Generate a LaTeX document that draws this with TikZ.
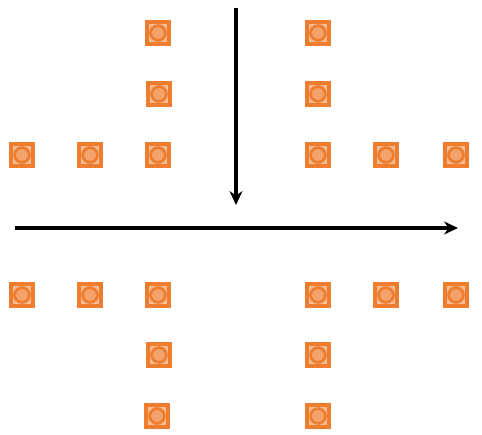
\documentclass[tikz,border=0pt]{standalone}
\usetikzlibrary{arrows.meta}
\definecolor{iconedge}{HTML}{EF7D2E}
\definecolor{iconfill}{HTML}{F7BC94}
\definecolor{iconcore}{HTML}{F3A26C}
\tikzset{
  icon/.style={draw=iconedge, line width=3.4pt, fill=iconfill,
    minimum size=22pt, inner sep=0pt,
    path picture={\draw[iconedge, line width=2.8pt, fill=iconcore]
      (path picture bounding box.center) circle[radius=7.4pt];}},
  axis/.style={line width=3.4pt, -{Stealth[length=14pt,width=13pt]}}
}
\begin{document}
\begin{tikzpicture}[x=1pt,y=-1pt]
\useasboundingbox (0,0) rectangle (482,435);
% upper left block
\node[icon] (ul1) at (158,33) {};
\node[icon] (ul2) at (159,94) {};
\node[icon] (ul3) at (158,155) {};
\node[icon] (ul4) at (90,155) {};
\node[icon] (ul5) at (22,155) {};
% upper right block
\node[icon] (ur1) at (318,33) {};
\node[icon] (ur2) at (318,94) {};
\node[icon] (ur3) at (318,155) {};
\node[icon] (ur4) at (386,155) {};
\node[icon] (ur5) at (456,155) {};
% lower left block
\node[icon] (ll1) at (22,295) {};
\node[icon] (ll2) at (90,295) {};
\node[icon] (ll3) at (158,295) {};
\node[icon] (ll4) at (159,355) {};
\node[icon] (ll5) at (157,416) {};
% lower right block
\node[icon] (lr1) at (318,295) {};
\node[icon] (lr2) at (386,295) {};
\node[icon] (lr3) at (456,295) {};
\node[icon] (lr4) at (318,355) {};
\node[icon] (lr5) at (318,416) {};
% axes
\coordinate (vtop) at (236,8);
\coordinate (vbot) at (236,205);
\coordinate (hleft) at (15,228);
\coordinate (hright) at (458,228);
\draw[axis] (vtop) -- (vbot);
\draw[axis] (hleft) -- (hright);
\end{tikzpicture}
\end{document}
